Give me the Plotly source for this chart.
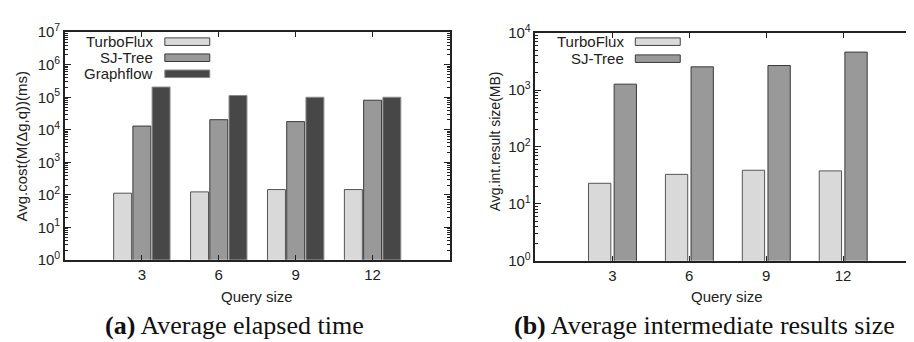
import plotly.graph_objects as go

# ---------------- data ----------------
query_sizes = [3, 6, 9, 12]

series_a = ["TurboFlux", "SJ-Tree", "Graphflow"]
turboflux_time = [112, 123, 145, 145]
sjtree_time = [13000, 20400, 17800, 81000]
graphflow_time = [206000, 113000, 100000, 100000]

series_b = ["TurboFlux", "SJ-Tree"]
turboflux_size = [23, 33, 39, 38]
sjtree_size = [1270, 2560, 2700, 4650]

exps_a = [0, 1, 2, 3, 4, 5, 6, 7]
exps_b = [0, 1, 2, 3, 4]

y_title_a = "Avg.cost(M(Δg,q))(ms)"
y_title_b = "Avg.int.result size(MB)"
x_title = "Query size"
caption_a = "<b>(a)</b> Average elapsed time"
caption_b = "<b>(b)</b> Average intermediate results size"

# ---------------- styling ----------------
W, H = 914, 342
fills = ["#d9d9d9", "#999999", "#474747"]
edges = ["#555555", "#3a3a3a", "#8a8a8a"]
SANS = "Liberation Sans, Arial, sans-serif"
SERIF = "Liberation Serif, Times New Roman, serif"
AX = "#222222"


def px(x):
    return x / W


def py(y):
    return 1 - y / H


fig = go.Figure()

offs_a = [-1.1, -0.35, 0.4]
vals_a = [turboflux_time, sjtree_time, graphflow_time]
for i, (name, vals) in enumerate(zip(series_a, vals_a)):
    fig.add_trace(go.Bar(
        x=query_sizes, y=vals, name=name, width=0.7, offset=offs_a[i],
        marker=dict(color=fills[i], line=dict(color=edges[i], width=1)),
        xaxis="x", yaxis="y", showlegend=False))

offs_b = [-0.93, 0.07]
vals_b = [turboflux_size, sjtree_size]
for i, (name, vals) in enumerate(zip(series_b, vals_b)):
    fig.add_trace(go.Bar(
        x=query_sizes, y=vals, name=name, width=0.87, offset=offs_b[i],
        marker=dict(color=fills[i], line=dict(color=edges[i], width=1)),
        xaxis="x2", yaxis="y2", showlegend=False))


def xaxis(domain, anchor):
    return dict(domain=domain, anchor=anchor, range=[0, 15],
                tickvals=query_sizes, ticktext=[str(q) for q in query_sizes],
                ticks="inside", ticklen=5, tickcolor=AX,
                showline=True, linecolor=AX, linewidth=1.5, mirror="ticks",
                showgrid=False, zeroline=False,
                tickfont=dict(family=SANS, size=15, color=AX))


def yaxis(domain, anchor, exps):
    return dict(domain=domain, anchor=anchor, type="log",
                range=[exps[0], exps[-1]],
                tickvals=[10 ** e for e in exps],
                ticktext=[f"10<sup>{e}</sup>" for e in exps],
                ticks="inside", ticklen=6, tickcolor=AX,
                minor=dict(ticks="inside", ticklen=3, tickcolor=AX, dtick="D1"),
                showline=True, linecolor=AX, linewidth=1.5, mirror="ticks",
                showgrid=False, zeroline=False,
                tickfont=dict(family=SANS, size=15, color=AX))


fig.update_layout(
    width=W, height=H, margin=dict(l=0, r=0, t=0, b=0),
    paper_bgcolor="white", plot_bgcolor="white",
    barmode="overlay",
    xaxis=xaxis([px(57), px(442)], "y"),
    yaxis=yaxis([py(255), py(14)], "x", exps_a),
    xaxis2=xaxis([px(528), px(913)], "y2"),
    yaxis2=yaxis([py(256), py(15)], "x2", exps_b),
)

annotations = []
shapes = []


def legend(names, text_right, sw_left, sw_right, ys):
    for i, (name, y) in enumerate(zip(names, ys)):
        annotations.append(dict(
            text=name, x=px(text_right), y=py(y), xref="paper", yref="paper",
            xanchor="right", yanchor="middle", showarrow=False,
            font=dict(family=SANS, size=15, color=AX)))
        shapes.append(dict(
            type="rect", xref="paper", yref="paper",
            x0=px(sw_left), x1=px(sw_right), y0=py(y + 4), y1=py(y - 4),
            fillcolor=fills[i], line=dict(color=edges[i] if i else "#444444", width=1)))


legend(series_a, 147, 157, 202, [24, 41, 58])
legend(series_b, 619, 628, 673, [24, 42])

for text, x, y, s in [(y_title_a, 14, 134, 15), (y_title_b, 487, 129, 14)]:
    annotations.append(dict(
        text=text, x=px(x), y=py(y), xref="paper", yref="paper",
        xanchor="center", yanchor="middle", showarrow=False, textangle=-90,
        font=dict(family=SANS, size=s, color=AX)))

for x in (249, 720):
    annotations.append(dict(
        text=x_title, x=px(x), y=py(294), xref="paper", yref="paper",
        xanchor="center", yanchor="middle", showarrow=False,
        font=dict(family=SANS, size=15, color=AX)))

for text, x in [(caption_a, 227), (caption_b, 697)]:
    annotations.append(dict(
        text=text, x=px(x), y=py(325), xref="paper", yref="paper",
        xanchor="center", yanchor="middle", showarrow=False,
        font=dict(family=SERIF, size=26, color="#111111")))

fig.update_layout(annotations=annotations, shapes=shapes)
fig.write_html("out.html")
